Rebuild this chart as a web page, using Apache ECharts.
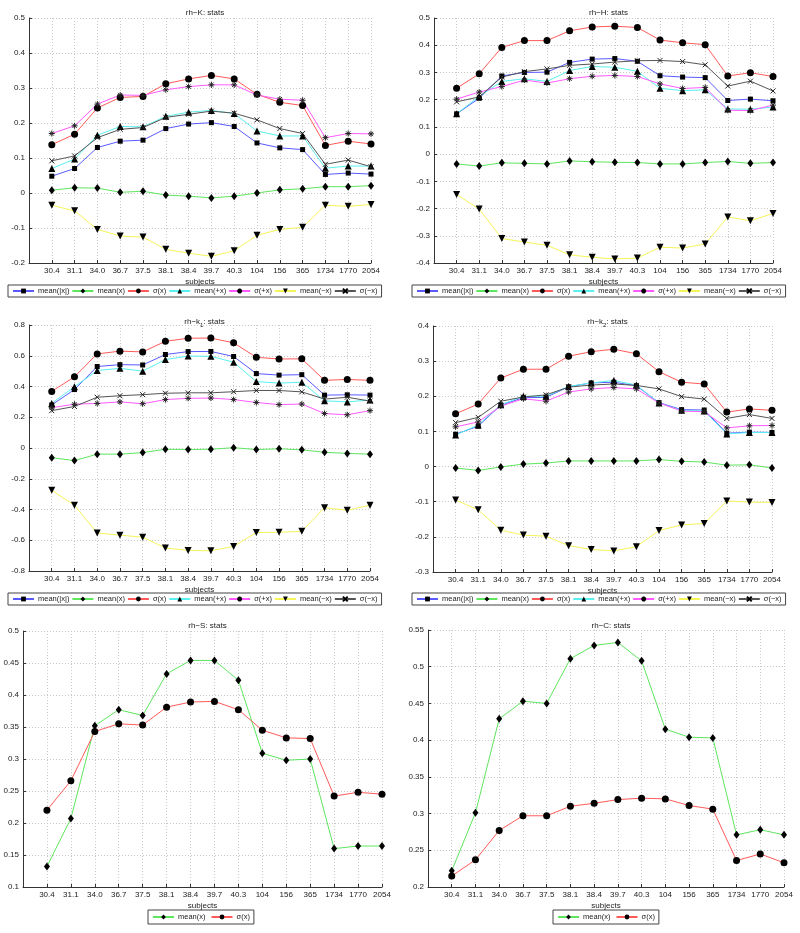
<!DOCTYPE html>
<html>
<head>
<meta charset="utf-8">
<script src="https://cdn.jsdelivr.net/npm/echarts@6/dist/echarts.min.js"></script>
<style>
html,body{margin:0;padding:0;background:#fff;}
#c{width:800px;height:933px;}
</style>
</head>
<body>
<div id="c"></div>
<script>
// ---------- data ----------
const subjects = ['30.4','31.1','34.0','36.7','37.5','38.1','38.4','39.7','40.3','104','156','365','1734','1770','2054'];
const legendNames = ['mean(|x|)','mean(x)','σ(x)','mean(+x)','σ(+x)','mean(−x)','σ(−x)'];

// rh-K
const K_meanAbs = [0.048,0.070,0.130,0.148,0.151,0.184,0.197,0.201,0.190,0.143,0.129,0.124,0.053,0.057,0.054];
const K_mean    = [0.008,0.015,0.014,0.002,0.005,-0.006,-0.009,-0.014,-0.009,0.000,0.009,0.012,0.018,0.018,0.021];
const K_std     = [0.138,0.168,0.243,0.273,0.276,0.312,0.326,0.336,0.326,0.282,0.259,0.250,0.136,0.148,0.140];
const K_meanPos = [0.070,0.097,0.165,0.190,0.189,0.219,0.231,0.236,0.227,0.177,0.163,0.163,0.071,0.077,0.077];
const K_stdPos  = [0.170,0.192,0.254,0.280,0.279,0.295,0.304,0.309,0.309,0.280,0.268,0.265,0.158,0.170,0.169];
const K_meanNeg = [-0.035,-0.051,-0.104,-0.123,-0.126,-0.161,-0.172,-0.181,-0.165,-0.121,-0.104,-0.098,-0.035,-0.038,-0.033];
const K_stdNeg  = [0.092,0.106,0.158,0.182,0.187,0.216,0.225,0.234,0.228,0.209,0.184,0.170,0.082,0.094,0.075];

// rh-H
const H_meanAbs = [0.148,0.205,0.287,0.300,0.301,0.337,0.349,0.351,0.341,0.288,0.283,0.281,0.197,0.202,0.196];
const H_mean    = [-0.036,-0.044,-0.032,-0.034,-0.036,-0.025,-0.028,-0.030,-0.031,-0.036,-0.036,-0.031,-0.027,-0.034,-0.031];
const H_std     = [0.242,0.295,0.392,0.417,0.417,0.453,0.467,0.470,0.465,0.419,0.409,0.402,0.287,0.299,0.285];
const H_meanPos = [0.148,0.212,0.267,0.277,0.267,0.307,0.322,0.319,0.304,0.242,0.233,0.236,0.166,0.165,0.173];
const H_stdPos  = [0.202,0.228,0.248,0.272,0.261,0.277,0.286,0.289,0.285,0.258,0.241,0.245,0.161,0.160,0.180];
const H_meanNeg = [-0.148,-0.202,-0.310,-0.323,-0.335,-0.370,-0.379,-0.385,-0.382,-0.342,-0.345,-0.330,-0.231,-0.245,-0.218];
const H_stdNeg  = [0.192,0.210,0.283,0.303,0.313,0.326,0.331,0.338,0.343,0.344,0.340,0.328,0.250,0.268,0.232];

// rh-k1
const k1_meanAbs = [0.280,0.380,0.530,0.542,0.540,0.608,0.627,0.628,0.595,0.484,0.474,0.477,0.344,0.346,0.344];
const k1_mean    = [-0.063,-0.082,-0.040,-0.040,-0.030,-0.008,-0.010,-0.008,0.002,-0.010,-0.005,-0.012,-0.028,-0.035,-0.040];
const k1_std     = [0.368,0.463,0.612,0.630,0.625,0.694,0.714,0.715,0.684,0.590,0.579,0.580,0.440,0.446,0.440];
const k1_meanPos = [0.290,0.398,0.504,0.518,0.500,0.575,0.598,0.596,0.558,0.432,0.422,0.428,0.307,0.300,0.312];
const k1_stdPos  = [0.262,0.285,0.290,0.300,0.288,0.315,0.323,0.325,0.315,0.296,0.282,0.286,0.224,0.216,0.243];
const k1_meanNeg = [-0.275,-0.372,-0.553,-0.567,-0.580,-0.650,-0.666,-0.668,-0.640,-0.550,-0.548,-0.542,-0.388,-0.405,-0.372];
const k1_stdNeg  = [0.243,0.270,0.330,0.340,0.347,0.356,0.359,0.359,0.366,0.374,0.374,0.365,0.318,0.330,0.305];

// rh-k2
const k2_meanAbs = [0.092,0.115,0.175,0.196,0.197,0.227,0.238,0.240,0.230,0.182,0.162,0.161,0.095,0.098,0.097];
const k2_mean    = [-0.004,-0.011,-0.001,0.007,0.010,0.016,0.016,0.016,0.016,0.020,0.015,0.013,0.004,0.005,-0.004];
const k2_std     = [0.150,0.178,0.252,0.277,0.277,0.314,0.327,0.334,0.321,0.270,0.240,0.235,0.155,0.164,0.160];
const k2_meanPos = [0.090,0.118,0.176,0.200,0.200,0.228,0.238,0.245,0.232,0.181,0.160,0.158,0.093,0.097,0.097];
const k2_stdPos  = [0.113,0.127,0.172,0.193,0.186,0.212,0.221,0.225,0.221,0.181,0.158,0.156,0.110,0.116,0.117];
const k2_meanNeg = [-0.095,-0.123,-0.181,-0.195,-0.198,-0.225,-0.236,-0.240,-0.228,-0.182,-0.166,-0.162,-0.098,-0.101,-0.102];
const k2_stdNeg  = [0.125,0.140,0.186,0.198,0.204,0.226,0.232,0.235,0.231,0.221,0.199,0.192,0.137,0.148,0.137];

// rh-S
const S_mean = [0.132,0.207,0.352,0.377,0.368,0.433,0.454,0.454,0.423,0.309,0.298,0.300,0.160,0.164,0.164];
const S_std  = [0.220,0.266,0.343,0.355,0.353,0.381,0.389,0.390,0.377,0.345,0.333,0.332,0.242,0.248,0.245];

// rh-C
const C_mean = [0.222,0.301,0.429,0.453,0.450,0.511,0.529,0.533,0.508,0.415,0.404,0.403,0.271,0.278,0.271];
const C_std  = [0.215,0.237,0.277,0.297,0.297,0.310,0.314,0.319,0.321,0.320,0.311,0.306,0.236,0.245,0.233];

// y-axis ranges per panel [min, max, interval]
const yRanges = [[-0.2,0.5,0.1],[-0.4,0.5,0.1],[-0.8,0.8,0.2],[-0.3,0.4,0.1],[0.1,0.5,0.05],[0.2,0.55,0.05]];

// ---------- styles ----------
const FONT = 'Liberation Sans';
const TXT = '#222';
const styles = {
  'mean(|x|)': {color:'#5a5aff', symbol:'rect', size:5},
  'mean(x)':   {color:'#5ee65e', symbol:'diamond', size:[6,8]},
  'σ(x)':      {color:'#ff5a5a', symbol:'circle', size:7},
  'mean(+x)':  {color:'#5af0f0', symbol:'triangle', size:7},
  'σ(+x)':     {color:'#ff5aff', symbol:'path://M5,0L5,10M0,5L10,5M1.5,1.5L8.5,8.5M8.5,1.5L1.5,8.5', size:6, stroke:true},
  'mean(−x)':  {color:'#f5f55a', symbol:'path://M0,0L10,0L5,9Z', size:7},
  'σ(−x)':     {color:'#555555', symbol:'path://M0,0L10,10M10,0L0,10', size:5, stroke:true}
};

const grids = [
  {left:29, top:18, width:342, height:245},
  {left:434, top:18, width:339, height:245},
  {left:29, top:325, width:341, height:246},
  {left:433, top:326, width:339, height:246},
  {left:23, top:631, width:359, height:256},
  {left:428, top:630, width:356, height:257}
];

const titles = [
  {text:'rh−K: stats'},
  {text:'rh−H: stats'},
  {text:'rh−k{s|1}: stats'},
  {text:'rh−k{s|2}: stats'},
  {text:'rh−S: stats'},
  {text:'rh−C: stats'}
];
const titleTops = [4, 4, 310, 310, 617, 617];

function mk(name, values, idx) {
  const st = styles[name];
  return {
    type:'line', name: name, xAxisIndex: idx, yAxisIndex: idx,
    data: values.map((v,i)=>[i+1, v]),
    symbol: st.symbol, symbolSize: st.size,
    showAllSymbol: true,
    lineStyle: {color: st.color, width: 1},
    itemStyle: st.stroke ? {color:'rgba(0,0,0,0)', borderColor:'#222', borderWidth:1} : {color:'#000', borderWidth:0},
    emphasis: {disabled:true},
    z: 2
  };
}

const series = [];
const panelsFull = [
  [K_meanAbs,K_mean,K_std,K_meanPos,K_stdPos,K_meanNeg,K_stdNeg],
  [H_meanAbs,H_mean,H_std,H_meanPos,H_stdPos,H_meanNeg,H_stdNeg],
  [k1_meanAbs,k1_mean,k1_std,k1_meanPos,k1_stdPos,k1_meanNeg,k1_stdNeg],
  [k2_meanAbs,k2_mean,k2_std,k2_meanPos,k2_stdPos,k2_meanNeg,k2_stdNeg]
];
panelsFull.forEach((arrs, p) => {
  arrs.forEach((a, j) => series.push(mk(legendNames[j], a, p)));
});
series.push(mk('mean(x)', S_mean, 4));
series.push(mk('σ(x)', S_std, 4));
series.push(mk('mean(x)', C_mean, 5));
series.push(mk('σ(x)', C_std, 5));

const xAxes = grids.map((g, i) => ({
  type:'value', gridIndex:i, min:0, max:15, interval:1,
  name:'subjects', nameLocation:'middle', nameGap:15,
  nameTextStyle:{fontFamily:FONT, fontSize:8, color:TXT},
  axisLine:{show:true, onZero:false, lineStyle:{color:'#333', width:1}},
  axisTick:{show:true, inside:true, length:3, lineStyle:{color:'#333'}},
  axisLabel:{fontFamily:FONT, fontSize:8, color:TXT, margin:4,
    formatter:(v)=> (v>=1 && v<=15) ? subjects[v-1] : ''},
  splitLine:{show:true, lineStyle:{color:'#c8c8c8', type:[1,2], width:1}}
}));

const yAxes = grids.map((g, i) => ({
  type:'value', gridIndex:i, min:yRanges[i][0], max:yRanges[i][1], interval:yRanges[i][2],
  axisLine:{show:true, onZero:false, lineStyle:{color:'#333', width:1}},
  axisTick:{show:true, inside:true, length:3, lineStyle:{color:'#333'}},
  axisLabel:{fontFamily:FONT, fontSize:8, color:TXT, margin:4,
    formatter:(v)=> String(Math.round(v*1000)/1000)},
  splitLine:{show:true, lineStyle:{color:'#c8c8c8', type:[1,2], width:1}}
}));

const titleComps = grids.map((g, i) => ({
  text: titles[i].text,
  left: g.left + g.width/2, top: titleTops[i], textAlign:'center',
  textStyle:{fontFamily:FONT, fontSize:8, fontWeight:'normal', color:TXT,
    rich:{s:{fontSize:6, fontFamily:FONT, color:TXT, verticalAlign:'bottom', lineHeight:13}}}
}));

function legendComp(left, top, data, gap, pad) {
  return {
    left:left, top:top, orient:'horizontal', data:data,
    width: 400,
    itemWidth:21, itemHeight:6, itemGap:gap,
    padding:pad, borderColor:'#444', borderWidth:1,
    selectedMode:false,
    itemStyle:{color:'#000', borderColor:'#000'},
    textStyle:{fontFamily:FONT, fontSize:7.5, color:TXT, padding:[0,0,0,-1]}
  };
}
const legends = [
  legendComp(8, 285, legendNames, 2, [2,4,2,4]),
  legendComp(412, 285, legendNames, 2, [2,4,2,4]),
  legendComp(8, 593, legendNames, 2, [2,4,2,4]),
  legendComp(412, 593, legendNames, 2, [2,4,2,4]),
  legendComp(148, 910, ['mean(x)','σ(x)'], 5, [3,4,3,4]),
  legendComp(553, 910, ['mean(x)','σ(x)'], 5, [3,4,3,4])
];

const chart = echarts.init(document.getElementById('c'), null, {renderer:'canvas'});
chart.setOption({
  animation:false,
  backgroundColor:'#fff',
  title: titleComps,
  grid: grids,
  xAxis: xAxes,
  yAxis: yAxes,
  legend: legends,
  series: series
});
</script>
</body>
</html>
